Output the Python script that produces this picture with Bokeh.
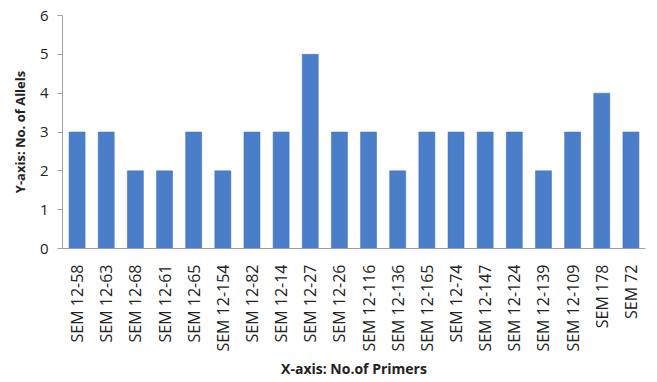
import math
from bokeh.plotting import figure
from bokeh.models import FactorRange, Range1d, FixedTicker
from bokeh.embed import file_html
from bokeh.resources import INLINE

primers = ["SEM 12-58", "SEM 12-63", "SEM 12-68", "SEM 12-61", "SEM 12-65",
           "SEM 12-154", "SEM 12-82", "SEM 12-14", "SEM 12-27", "SEM 12-26",
           "SEM 12-116", "SEM 12-136", "SEM 12-165", "SEM 12-74", "SEM 12-147",
           "SEM 12-124", "SEM 12-139", "SEM 12-109", "SEM 178", "SEM 72"]
alleles = [3, 3, 2, 2, 3, 2, 3, 3, 5, 3, 3, 2, 3, 3, 3, 3, 2, 3, 4, 3]
y_ticks = [0, 1, 2, 3, 4, 5, 6]

FONT = "Open Sans"

p = figure(width=657, height=382, output_backend="svg", toolbar_location=None,
           x_range=FactorRange(factors=primers, range_padding=0),
           y_range=Range1d(0, 6),
           min_border_left=62, min_border_right=12, min_border_top=15,
           min_border_bottom=134)

p.vbar(x=primers, top=alleles, width=0.55, fill_color="#4a7ec8",
       line_color="#3f70b8", line_width=0.5)

p.outline_line_color = None
p.xgrid.grid_line_color = None
p.ygrid.grid_line_color = None

p.yaxis.ticker = FixedTicker(ticks=y_ticks)
p.yaxis.minor_tick_line_color = None
p.yaxis.major_tick_in = 0
p.yaxis.major_tick_out = 5
p.yaxis.major_tick_line_color = "#a0a0a0"
p.yaxis.axis_line_color = "#a0a0a0"
p.yaxis.major_label_text_font = FONT
p.yaxis.major_label_text_font_size = "15px"
p.yaxis.major_label_text_color = "#222222"
p.yaxis.major_label_standoff = 9
p.yaxis.axis_label = "Y-axis: No. of Allels"
p.yaxis.axis_label_text_font = FONT
p.yaxis.axis_label_text_font_style = "bold"
p.yaxis.axis_label_text_font_size = "13px"
p.yaxis.axis_label_text_color = "#222222"
p.yaxis.axis_label_standoff = 8

p.xaxis.major_label_orientation = math.pi / 2
p.xaxis.major_tick_line_color = None
p.xaxis.minor_tick_line_color = None
p.xaxis.axis_line_color = "#a0a0a0"
p.xaxis.major_label_text_font = FONT
p.xaxis.major_label_text_font_size = "16px"
p.xaxis.major_label_text_color = "#222222"
p.xaxis.major_label_standoff = 10
p.xaxis.axis_label = "X-axis: No.of Primers"
p.xaxis.axis_label_text_font = FONT
p.xaxis.axis_label_text_font_style = "bold"
p.xaxis.axis_label_text_font_size = "14px"
p.xaxis.axis_label_text_color = "#222222"
p.xaxis.axis_label_standoff = 4

open("out.html", "w").write(file_html(p, INLINE))
